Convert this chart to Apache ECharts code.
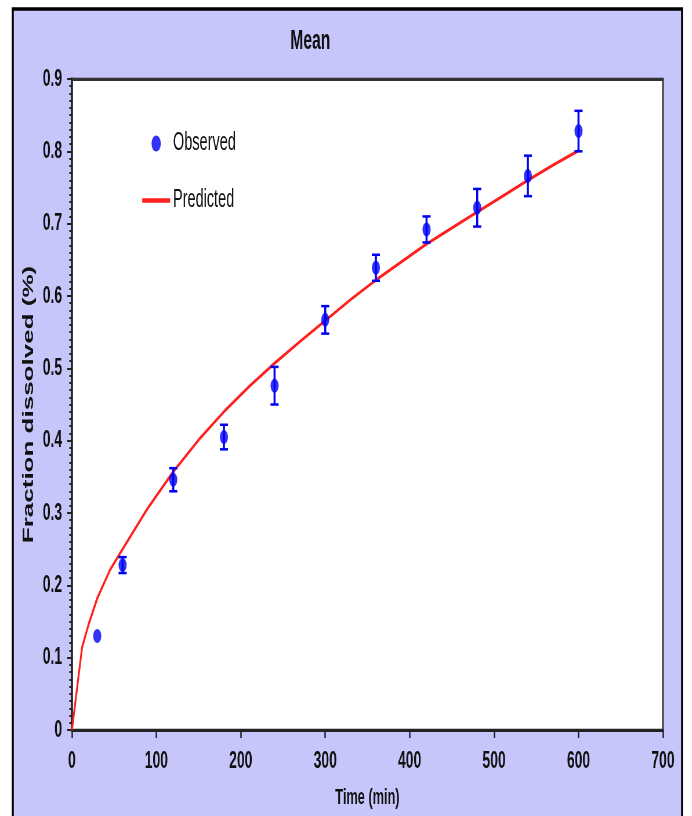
<!DOCTYPE html>
<html><head><meta charset="utf-8">
<script src="https://cdn.jsdelivr.net/npm/echarts@6/dist/echarts.min.js"></script>
<style>
html,body{margin:0;padding:0;background:#fff;overflow:hidden}
#wrap{width:692px;height:816px;overflow:hidden;position:relative}
#c{width:1193px;height:816px;transform:scaleX(0.58);transform-origin:0 0;position:absolute;left:0;top:0}
</style>
</head><body><div id="wrap"><div id="c"></div></div>
<script>
var obsTime = [30, 60, 120, 180, 240, 300, 360, 420, 480, 540, 600];
var obsMean = [0.130, 0.228, 0.346, 0.405, 0.476, 0.567, 0.639, 0.692, 0.722, 0.766, 0.828];
var obsErr  = [0, 0.011, 0.016, 0.017, 0.026, 0.019, 0.018, 0.018, 0.026, 0.028, 0.028];
var predTime = [0, 12, 20, 30, 45, 60, 90, 120, 150, 180, 210, 240, 270, 300, 330, 360, 390, 420, 450, 480, 510, 540, 570, 600];
var predVal  = [0, 0.114, 0.147, 0.182, 0.221, 0.250, 0.307, 0.357, 0.401, 0.440, 0.475, 0.507, 0.537, 0.566, 0.595, 0.622, 0.647, 0.672, 0.694, 0.716, 0.738, 0.760, 0.781, 0.801];
var yTicks = ['0','0.1','0.2','0.3','0.4','0.5','0.6','0.7','0.8','0.9'];

var FN = "'Liberation Sans',Arial,sans-serif";
var BLUE = '#0000f5', RED = '#ff1f1f';
var chart = echarts.init(document.getElementById('c'), null, {renderer:'canvas', width:1193, height:816});
var obsData = obsTime.map(function(t,i){return [t, obsMean[i]];});
var errData = obsTime.map(function(t,i){return [t, obsMean[i]-obsErr[i], obsMean[i]+obsErr[i]];});
var predData = predTime.map(function(t,i){return [t, predVal[i]];});

chart.setOption({
  animation:false,
  backgroundColor:'#ffffff',
  graphic:[{type:'rect', z:-10, shape:{x:22, y:9, width:1154, height:830}, style:{fill:'#c6c6fb', stroke:'#000', lineWidth:3.5}}],
  title:{text:'Mean', left:530, top:23, textAlign:'center', textStyle:{fontFamily:FN, fontSize:27, fontWeight:'bold', color:'#111'}},
  legend:{left:243, top:131, padding:0, orient:'vertical', itemGap:32, itemWidth:48, itemHeight:16,
    textStyle:{fontFamily:FN, fontSize:25, lineHeight:25, color:'#111'},
    data:[{name:'Observed', icon:'circle', itemStyle:{color:BLUE}},
          {name:'Predicted', itemStyle:{opacity:0}, lineStyle:{color:RED, width:4.5}}]},
  grid:{left:124, top:79, width:1019, height:651, show:true, backgroundColor:'#ffffff', borderColor:'#222', borderWidth:2.5},
  xAxis:[{type:'value', min:0, max:700, interval:100, position:'bottom',
    axisLine:{lineStyle:{color:'#222', width:3}}, axisTick:{show:true, length:8, lineStyle:{color:'#222', width:2.5}},
    splitLine:{show:false},
    axisLabel:{fontFamily:FN, fontSize:24, fontWeight:'bold', color:'#111', margin:19},
    name:'Time (min)', nameLocation:'middle', nameGap:57,
    nameTextStyle:{fontFamily:FN, fontSize:22, fontWeight:'bold', color:'#111'}},
   {type:'value', min:0, max:700, position:'top', axisLine:{lineStyle:{color:'#333', width:3}}, axisTick:{show:false}, axisLabel:{show:false}, splitLine:{show:false}}],
  yAxis:{type:'value', min:0, max:0.9, interval:0.1,
    axisLine:{lineStyle:{color:'#222', width:3.5}}, axisTick:{show:true, length:8, lineStyle:{color:'#222', width:2}},
    minorTick:{show:true, splitNumber:10, length:4.5, lineStyle:{color:'#222', width:2}},
    splitLine:{show:false},
    axisLabel:{fontFamily:FN, fontSize:24, fontWeight:'bold', color:'#111', margin:17, formatter:function(v){return yTicks[Math.round(v*10)];}},
    name:'Fraction dissolved (%)', nameLocation:'middle', nameGap:46, nameRotate:90,
    nameTextStyle:{fontFamily:FN, fontSize:26, fontWeight:'bold', color:'#111'}},
  series:[
    {name:'Predicted', type:'line', data:predData, smooth:false, showSymbol:false, symbol:'none',
      lineStyle:{color:RED, width:3.2}, itemStyle:{color:RED}, z:3},
    {name:'Observed', type:'scatter', data:obsData, symbol:'circle', symbolSize:14,
      itemStyle:{color:BLUE}, z:5},
    {name:'err', type:'custom', data:errData, z:4,
      renderItem:function(params, api){
        if (api.value(2) - api.value(1) <= 0) return null;
        var x = api.value(0), lo = api.coord([x, api.value(1)]), hi = api.coord([x, api.value(2)]);
        var hw = 7;
        return {type:'group', children:[
          {type:'line', shape:{x1:lo[0], y1:lo[1], x2:hi[0], y2:hi[1]}, style:{stroke:BLUE, lineWidth:3.5}},
          {type:'line', shape:{x1:lo[0]-hw, y1:lo[1], x2:lo[0]+hw, y2:lo[1]}, style:{stroke:BLUE, lineWidth:2.5}},
          {type:'line', shape:{x1:hi[0]-hw, y1:hi[1], x2:hi[0]+hw, y2:hi[1]}, style:{stroke:BLUE, lineWidth:2.5}}
        ]};
      }}
  ]
});
</script></body></html>
